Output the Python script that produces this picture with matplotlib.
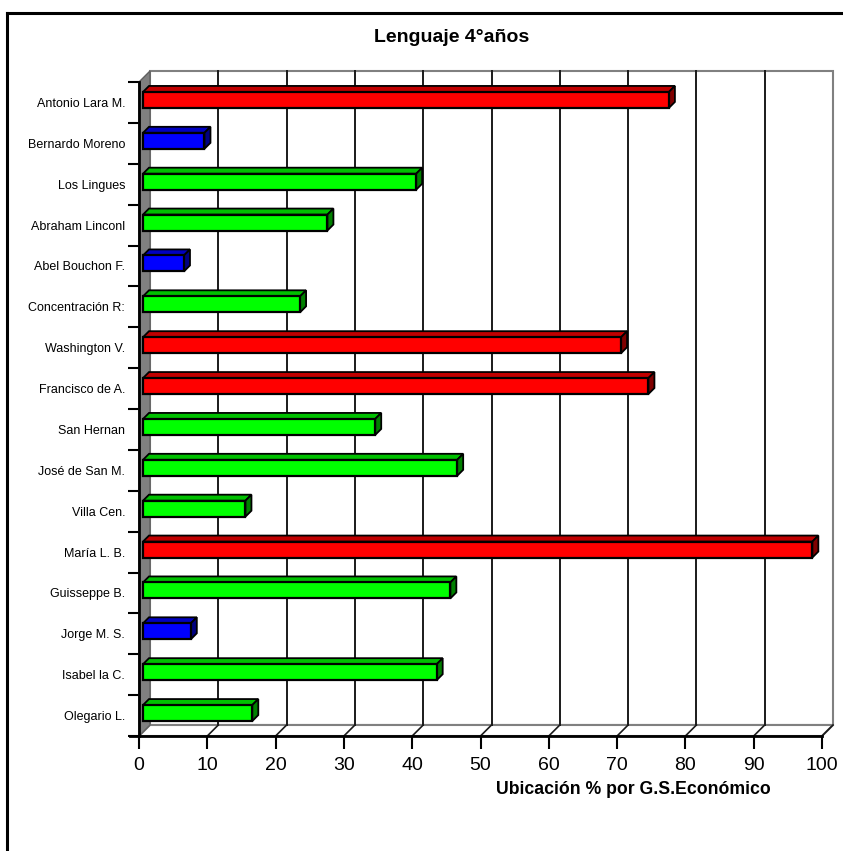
import matplotlib
matplotlib.use("Agg")
import matplotlib.pyplot as plt
from matplotlib.patches import Polygon
from matplotlib.lines import Line2D

# categories listed top to bottom as in the chart
schools = ["Antonio Lara M.", "Bernardo Moreno", "Los Lingues", "Abraham Linconl",
           "Abel Bouchon F.", "Concentración R:", "Washington V.", "Francisco de A.",
           "San Hernan", "José de San M.", "Villa Cen.", "María L. B.",
           "Guisseppe B.", "Jorge M. S.", "Isabel la C.", "Olegario L."]
values = [77, 9, 40, 27, 6, 23, 70, 74, 34, 46, 15, 98, 45, 7, 43, 16]
groups = ["alto", "bajo", "medio", "medio", "bajo", "medio", "alto", "alto",
          "medio", "medio", "medio", "alto", "medio", "bajo", "medio", "medio"]
xticks = list(range(0, 101, 10))

# front / top / side shades per group
shades = {"alto":  ("#FF0000", "#C00000", "#800000"),
          "medio": ("#00FF00", "#00C000", "#008000"),
          "bajo":  ("#0000FF", "#0000C0", "#000080")}

W, H = 843, 851
fig = plt.figure(figsize=(W/100, H/100), dpi=100)
fig.patch.set_facecolor("white")

# front plane of the 3D box in pixels
x0p, x1p, y0p, y1p = 139, 822, 82, 736
ax = fig.add_axes([x0p/W, 1 - y1p/H, (x1p-x0p)/W, (y1p-y0p)/H])
n = len(schools)
ax.set_xlim(0, 100)
ax.set_ylim(0, n)
ax.set_facecolor("none")
for s in ["top", "right", "left", "bottom"]:
    ax.spines[s].set_visible(False)

ux = 100 / (x1p - x0p)   # data units per pixel
uy = n / (y1p - y0p)
dxw, dyw = 11*ux, 11*uy  # depth of the box

def poly(pts, fc, ec, lw, z):
    ax.add_patch(Polygon(pts, closed=True, facecolor=fc, edgecolor=ec,
                         lw=lw, zorder=z, clip_on=False))

# back wall, floor, left wall
poly([(dxw, dyw), (100+dxw, dyw), (100+dxw, n+dyw), (dxw, n+dyw)],
     "white", "#808080", 1.5, 1)
poly([(0, 0), (100, 0), (100+dxw, dyw), (dxw, dyw)], "white", "#808080", 1.5, 1.5)
poly([(0, 0), (dxw, dyw), (dxw, n+dyw), (0, n)], "#808080", "#606060", 1.0, 1.6)

# gridlines on back wall and floor
for t in xticks[1:-1]:
    ax.plot([t+dxw, t+dxw], [dyw, n+dyw], color="#1a1a1a", lw=1.4, zorder=2,
            clip_on=False)
for t in xticks[1:]:
    ax.plot([t, t+dxw], [0, dyw], color="#1a1a1a", lw=1.2, zorder=2,
            clip_on=False)

# bars
bx = 4*ux                # bar front face depth shift
ddx, ddy = 6*ux, 6*uy    # bar thickness in depth
hh = 8*uy
for i, (v, g) in enumerate(zip(values, groups)):
    yc = n - i - 0.5 + 2.5*uy
    xl, xr = bx, bx + v
    yb, yt = yc - hh, yc + hh
    front, top, side = shades[g]
    poly([(xl, yt), (xr, yt), (xr+ddx, yt+ddy), (xl+ddx, yt+ddy)], top, "black", 1.3, 5)
    poly([(xr, yb), (xr+ddx, yb+ddy), (xr+ddx, yt+ddy), (xr, yt)], side, "black", 1.3, 5)
    poly([(xl, yb), (xr, yb), (xr, yt), (xl, yt)], front, "black", 1.6, 6)

# axes lines
ax.plot([-1.3, 100], [0, 0], color="black", lw=2, zorder=7, clip_on=False)
ax.plot([0, 0], [0, n], color="black", lw=2, zorder=7, clip_on=False)

ax.set_xticks(xticks)
ax.set_xticklabels([str(t) for t in xticks], fontsize=14,
                   family=["Liberation Sans", "DejaVu Sans"])
ax.tick_params(axis="x", length=9, width=1.5, pad=6, color="black")

ax.set_yticks(range(n+1))
ax.set_yticklabels([])
ax.set_yticks([n - i - 0.5 for i in range(n)], minor=True)
ax.set_yticklabels(schools, minor=True, fontsize=9,
                   family=["Liberation Sans", "DejaVu Sans"])
ax.tick_params(axis="y", which="major", length=8, width=1.5, color="black")
ax.tick_params(axis="y", which="minor", length=0, pad=10)

fig.text(452/W, 1 - 38/H, "Lenguaje 4°años", ha="center", va="center",
         fontsize=14, fontweight="bold", family=["Liberation Sans", "DejaVu Sans"])
fig.text(633/W, 1 - 789/H, "Ubicación % por G.S.Económico", ha="center",
         va="center", fontsize=12.7, fontweight="bold",
         family=["Liberation Sans", "DejaVu Sans"])

# outer chart border (only top and left visible in the frame)
fig.add_artist(Line2D([7/W, 1.0], [1 - 13/H, 1 - 13/H], color="black", lw=2.2,
                      transform=fig.transFigure))
fig.add_artist(Line2D([7/W, 7/W], [0, 1 - 13/H], color="black", lw=2.2,
                      transform=fig.transFigure))

fig.savefig("out.png", dpi=100)
